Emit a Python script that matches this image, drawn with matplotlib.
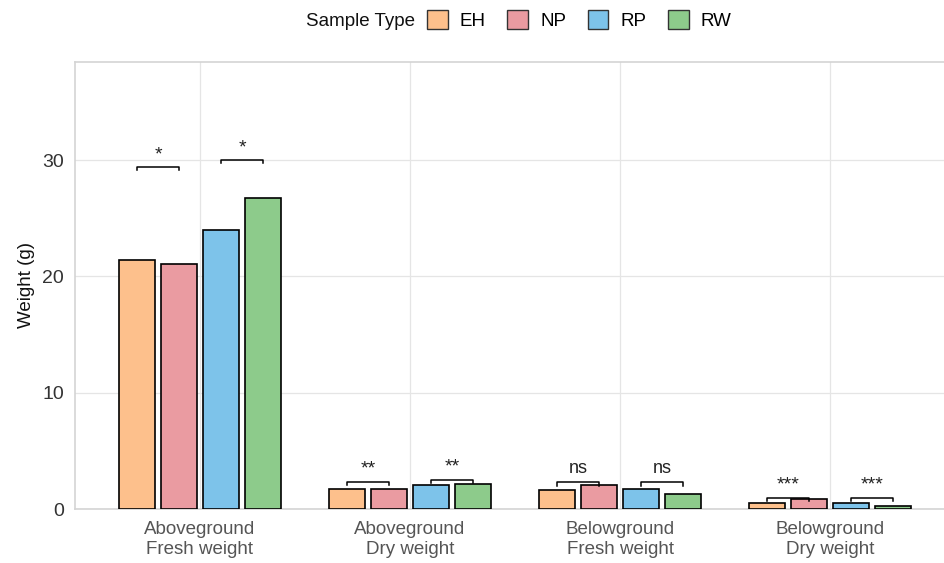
import matplotlib
matplotlib.use('Agg')
import matplotlib.pyplot as plt
from matplotlib.patches import Patch
import numpy as np

plt.rcParams['font.family'] = ['Liberation Sans', 'DejaVu Sans']

# Data
categories = ["Aboveground\nFresh weight", "Aboveground\nDry weight",
              "Belowground\nFresh weight", "Belowground\nDry weight"]
sample_types = ["EH", "NP", "RP", "RW"]
weights = {
    "EH": [21.4, 1.7, 1.6, 0.5],
    "NP": [21.1, 1.7, 2.1, 0.85],
    "RP": [24.0, 2.05, 1.7, 0.5],
    "RW": [26.7, 2.15, 1.3, 0.3],
}
colors = {"EH": "#FDC08C", "NP": "#EA9BA1", "RP": "#7DC3EA", "RW": "#8DCB8B"}

# significance brackets: (category index, left type, right type, y, label)
sig_pairs = [
    (0, "EH", "NP", 29.4, "*"),
    (0, "RP", "RW", 30.0, "*"),
    (1, "EH", "NP", 2.35, "**"),
    (1, "RP", "RW", 2.5, "**"),
    (2, "EH", "NP", 2.3, "ns"),
    (2, "RP", "RW", 2.3, "ns"),
    (3, "EH", "NP", 0.95, "***"),
    (3, "RP", "RW", 0.95, "***"),
]

fig = plt.figure(figsize=(9.44, 5.63), dpi=100)
W, H = 944, 563
ax = fig.add_axes([75 / W, 1 - 509 / H, (944 - 75) / W, (509 - 62) / H])

x = np.arange(1, len(categories) + 1)
dodge = 0.2
width = 0.176
offsets = {t: (i - 1.5) * dodge for i, t in enumerate(sample_types)}

for t in sample_types:
    ax.bar(x + offsets[t], weights[t], width=width, color=colors[t],
           edgecolor="black", linewidth=1.2, zorder=3)

tick = 0.28
for ci, a, b, y, lab in sig_pairs:
    x0 = x[ci] + offsets[a]
    x1 = x[ci] + offsets[b]
    ax.plot([x0, x0, x1, x1], [y - tick, y, y, y - tick], color="black",
            linewidth=1.1, zorder=4)
    if lab == "ns":
        ax.text((x0 + x1) / 2, y + 0.45, lab, ha="center", va="bottom",
                fontsize=13, color="#222222", zorder=4)
    else:
        ax.text((x0 + x1) / 2, y + 0.35, lab, ha="center", va="bottom",
                fontsize=14, color="#222222", zorder=4)

ax.set_xlim(1 - 125 / 210, 4 + 114 / 210)
ax.set_ylim(0, 447 / 11.63)
ax.set_yticks([0, 10, 20, 30])
ax.set_xticks(x)
ax.set_xticklabels(categories)

ax.grid(True, color="#E5E5E5", linewidth=0.9, zorder=0)
ax.set_axisbelow(True)
for s in ["top", "left", "bottom"]:
    ax.spines[s].set_color("#D4D4D4")
    ax.spines[s].set_linewidth(1.2)
ax.spines["right"].set_visible(False)
ax.tick_params(length=0, pad=6)
ax.tick_params(axis="x", labelsize=13.5, colors="#555555", pad=9)
ax.tick_params(axis="y", labelsize=14, colors="#333333", pad=8)
ax.set_ylabel("Weight (g)", fontsize=13.5, color="#111111", labelpad=5)

# legend along the top
handles = [Patch(facecolor=colors[t], edgecolor="#333333", linewidth=1.0)
           for t in sample_types]
fig.text(415 / W, 1 - 21 / H, "Sample Type", ha="right", va="center",
         fontsize=13.5, color="#111111")
fig.legend(handles, sample_types, loc="center left",
           bbox_to_anchor=(427 / W, 1 - 20 / H), ncol=4, frameon=False,
           fontsize=13.5, handlelength=1.1, handleheight=1.2,
           handletextpad=0.65, columnspacing=1.15, borderaxespad=0,
           borderpad=0)

fig.savefig("out.png", dpi=100)
